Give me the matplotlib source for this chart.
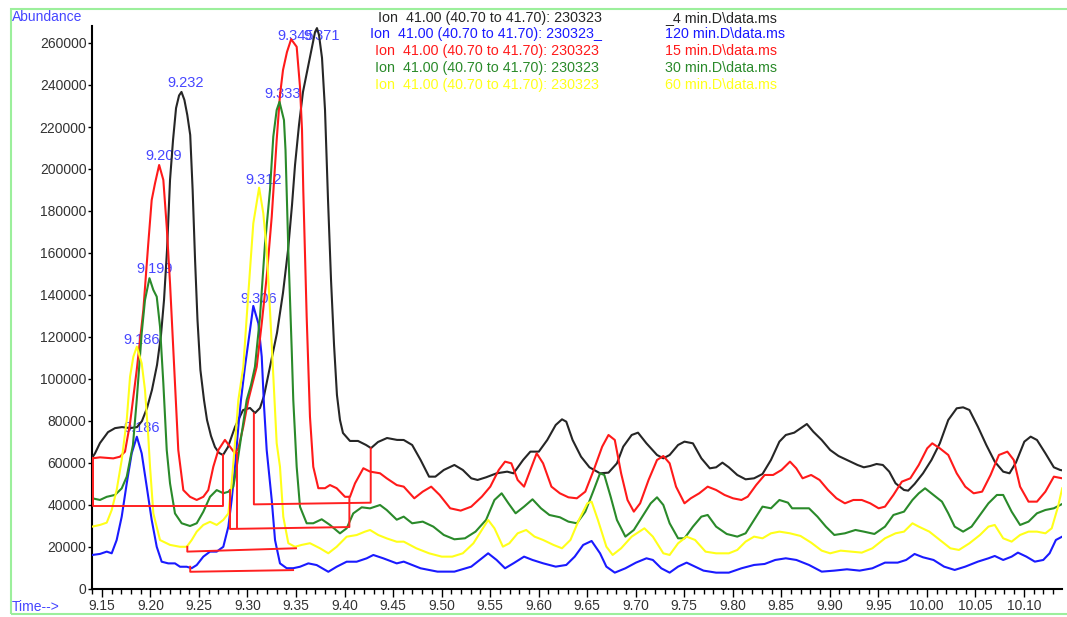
import matplotlib.pyplot as plt
from matplotlib.ticker import MultipleLocator, FormatStrFormatter
from matplotlib.patches import Rectangle

plt.rcParams['font.family'] = ['Liberation Sans', 'DejaVu Sans']

# ---- chromatogram traces (time in min, abundance) ----
black_t = [9.1400, 9.1429, 9.148, 9.1563, 9.1635, 9.1707, 9.179, 9.1862, 9.1913, 9.1965,
           9.2016, 9.2068, 9.2109, 9.214, 9.2171, 9.2202, 9.2233, 9.2264, 9.2295, 9.232,
           9.235, 9.238, 9.241, 9.2435, 9.246, 9.2485, 9.2515, 9.2552, 9.2583, 9.2624,
           9.2665, 9.2707, 9.2748, 9.2799, 9.2871, 9.2954, 9.3026, 9.3078, 9.3129, 9.317,
           9.3232, 9.3304, 9.3366, 9.3418, 9.3459, 9.349, 9.3531, 9.3572, 9.3613, 9.3655,
           9.3696, 9.3716, 9.3737, 9.3768, 9.3799, 9.383, 9.3861, 9.3892, 9.3922, 9.3953,
           9.3984, 9.4056, 9.4139, 9.4221, 9.4273, 9.4345, 9.4438, 9.4541,
           9.461, 9.4697, 9.4784, 9.4871, 9.4936, 9.5023, 9.5132, 9.5219, 9.5306, 9.5371,
           9.5458, 9.5567, 9.5676, 9.5741, 9.584, 9.5915, 9.6002, 9.6089, 9.6176, 9.6241,
           9.6285, 9.635, 9.6437, 9.6524, 9.6633, 9.672, 9.6807, 9.6872, 9.6959, 9.7024,
           9.7111, 9.722, 9.7285, 9.735, 9.7437, 9.7503, 9.759, 9.7677, 9.7764, 9.7829,
           9.7894, 9.796, 9.8047, 9.8133, 9.822, 9.8307, 9.8394, 9.8481, 9.8547, 9.8634,
           9.8699, 9.8764, 9.883, 9.8917, 9.9004, 9.909, 9.9177, 9.9286, 9.9351, 9.9417,
           9.9482, 9.9547, 9.9613, 9.9678, 9.9765, 9.9808, 9.9874, 9.9961, 10.0048, 10.0134,
           10.0221, 10.0308, 10.0374, 10.0439, 10.0526, 10.0613, 10.07, 10.0787, 10.0852, 10.0918,
           10.1005, 10.107, 10.1135, 10.1222, 10.1309, 10.1374, 10.1395]
black_v = [62500, 64600, 69500, 74700, 76600, 77100, 76600, 77100, 80000, 86200,
           94800, 106700, 121000, 137600, 161400, 194800, 213800, 229000, 235000, 236700,
           232900, 225700, 216200, 190000, 156700, 128100, 104300, 90000, 80500, 72900,
           67600, 64800, 63800, 67600, 77100, 85200, 86200, 83800, 86200, 91900,
           105700, 121900, 141000, 161400, 182900, 201900, 221000, 236700, 246200, 255700,
           265200, 267100, 263800, 252900, 228100, 185200, 147100, 116200, 92400, 80500,
           74300, 70500, 70500, 68600, 67100, 70000, 71900, 71000,
           70960, 68580, 61440, 53500, 53500, 56680, 59060, 56680, 52710, 51920,
           53180, 55090, 55880, 55090, 61440, 65410, 65410, 70960, 78100, 80800,
           79680, 70960, 63020, 57950, 55090, 55410, 59850, 67790, 73340, 74450,
           69370, 63820, 62230, 63820, 68580, 70170, 69370, 62230, 57470, 57950,
           60170, 57950, 54300, 52230, 52710, 54770, 61440, 70170, 73340, 74450,
           76510, 78570, 74930, 70960, 66200, 63340, 61440, 59060, 57950, 58580,
           59530, 59060, 55880, 50330, 47150, 46840, 50010, 55090, 61440, 69370,
           80480, 86040, 86510, 85240, 77310, 68580, 60650, 55880, 55090, 60170,
           70170, 72550, 70960, 64610, 57950, 56680, 56500]

red_t = [9.1400, 9.148, 9.1617, 9.1686, 9.1738, 9.1772, 9.179, 9.1859, 9.1927, 9.1978,
         9.2013, 9.2047, 9.209, 9.2133, 9.2168, 9.2202, 9.2236, 9.2271, 9.2287, 9.2339,
         9.2408, 9.2477, 9.2545, 9.2596, 9.2648, 9.27, 9.2768, 9.282, 9.2871, 9.2906,
         9.2957, 9.3009, 9.3095, 9.3147, 9.3198, 9.325, 9.3301, 9.3335, 9.3366, 9.3407,
         9.345, 9.3507, 9.3541, 9.3562, 9.3575, 9.361, 9.3644, 9.3678, 9.373, 9.3799,
         9.385, 9.3919, 9.4005, 9.4056, 9.4108, 9.4194, 9.4263, 9.4366, 9.4435, 9.4538,
         9.461, 9.4719, 9.4806, 9.4893, 9.498, 9.5089, 9.5197, 9.5306, 9.5415, 9.5502,
         9.5589, 9.5654, 9.5719, 9.5784, 9.585, 9.5915, 9.598, 9.6046, 9.6132, 9.6219,
         9.6307, 9.6394, 9.6481, 9.6568, 9.6655, 9.672, 9.6785, 9.685, 9.6916, 9.6981,
         9.7046, 9.7133, 9.722, 9.7285, 9.735, 9.7416, 9.7503, 9.7568, 9.7655, 9.7742,
         9.7829, 9.7916, 9.8003, 9.809, 9.8155, 9.8242, 9.8329, 9.8416, 9.8503, 9.859,
         9.8655, 9.872, 9.8808, 9.8895, 9.8982, 9.9069, 9.9156, 9.9243, 9.933, 9.9417,
         9.9504, 9.9569, 9.9656, 9.9743, 9.983, 9.9917, 10.0004, 10.0056, 10.0134, 10.0221,
         10.0308, 10.0396, 10.0483, 10.057, 10.0657, 10.0743, 10.083, 10.0896, 10.0961, 10.1048,
         10.1135, 10.1222, 10.1309, 10.1395]
red_v = [62200, 62700, 62200, 63000, 65400, 74100, 78900, 104300, 132900, 164600,
         185200, 193100, 201900, 194800, 172500, 145600, 113800, 82000, 66200, 47100,
         43900, 42400, 43900, 47100, 58200, 66200, 71000, 67800, 64600, 67000,
         77300, 90000, 105800, 126500, 148700, 177300, 213800, 235200, 247100, 255700,
         261800, 258200, 239200, 218600, 190000, 129700, 82000, 58200, 48000, 48000,
         49500, 48000, 43900, 43900, 50300, 57500, 55900, 55100, 52700, 49500,
         48740, 43190, 46360, 48740, 44780, 38430, 37320, 39220, 43980, 48740,
         56680, 60650, 59850, 51920, 48740, 56680, 64610, 59850, 48740, 45570,
         43660, 43190, 46360, 56680, 67790, 73340, 70960, 55090, 42390, 36840,
         40800, 51920, 61440, 63340, 59850, 48740, 40800, 43190, 45570, 48740,
         47150, 44780, 43190, 42390, 43980, 49530, 54300, 54300, 56680, 60650,
         57470, 52710, 54300, 51920, 47150, 43190, 40800, 42390, 42390, 40800,
         38430, 39220, 44780, 51120, 52710, 59060, 66990, 69370, 66990, 63820,
         55090, 48740, 45570, 46360, 54300, 63820, 65410, 61440, 48740, 41600,
         41600, 46360, 53500, 52710]

green_t = [9.1400, 9.148, 9.155, 9.1635, 9.1704, 9.1756, 9.179, 9.182, 9.1859, 9.191,
           9.1944, 9.199, 9.203, 9.2065, 9.2099, 9.2133, 9.2168, 9.2202, 9.2253, 9.2322,
           9.2408, 9.2477, 9.2545, 9.2614, 9.2683, 9.2751, 9.2803, 9.2854, 9.2889, 9.2941,
           9.2992, 9.3036, 9.3077, 9.3129, 9.3181, 9.3232, 9.3266, 9.3301, 9.333, 9.3376,
           9.3392, 9.3421, 9.3456, 9.3472, 9.3507, 9.3541, 9.361, 9.3678, 9.3765, 9.385,
           9.3953, 9.4022, 9.409, 9.4177, 9.4263, 9.4366, 9.4435, 9.4538,
           9.461, 9.4697, 9.4806, 9.4915, 9.5023, 9.5132, 9.5241, 9.535, 9.5458, 9.5545,
           9.5619, 9.5689, 9.5763, 9.585, 9.5937, 9.6024, 9.6111, 9.622, 9.6307, 9.6394,
           9.6481, 9.6568, 9.6633, 9.6677, 9.6742, 9.6807, 9.6894, 9.6981, 9.7068, 9.7155,
           9.722, 9.7285, 9.735, 9.7437, 9.7503, 9.759, 9.7677, 9.7742, 9.7829, 9.7938,
           9.8047, 9.8133, 9.822, 9.8307, 9.8394, 9.8481, 9.8569, 9.8612, 9.8699, 9.8786,
           9.8873, 9.896, 9.9047, 9.9156, 9.9265, 9.9351, 9.946, 9.9569, 9.9656, 9.9765,
           9.9852, 9.9917, 9.9982, 10.0069, 10.0156, 10.0221, 10.0287, 10.0374, 10.0461, 10.0548,
           10.0635, 10.0722, 10.0787, 10.0874, 10.0961, 10.1048, 10.1135, 10.1222, 10.1309, 10.1395]
green_v = [43200, 42400, 43900, 44800, 47900, 53500, 61400, 68600, 90000, 121800,
           137600, 148000, 142400, 139200, 124900, 98000, 66200, 50300, 36000, 31300,
           30000, 31300, 36800, 43900, 47100, 45600, 46300, 48700, 58200, 74100,
           90000, 97100, 105800, 129700, 164600, 190000, 215400, 228100, 232000, 223300,
           209000, 161400, 113800, 90000, 58200, 39200, 31300, 31300, 33200, 30500,
           26500, 28900, 36000, 38900, 38400, 40000, 37600, 33000,
           34460, 31290, 32080, 29700, 25730, 23670, 24140, 27320, 32870, 42390,
           45570, 40800, 36050, 39220, 42710, 38430, 35250, 34140, 32080, 31290,
           36840, 47150, 55090, 54300, 43980, 32870, 24940, 28110, 34460, 40800,
           43660, 40010, 31290, 24140, 24140, 29700, 34460, 35250, 29700, 26210,
           24940, 26520, 32870, 39220, 38430, 42390, 41120, 38430, 38430, 38430,
           34460, 29700, 25730, 26520, 28110, 27320, 26210, 29700, 35250, 36840,
           42390, 45570, 47950, 44780, 41600, 36050, 29700, 27320, 29700, 35250,
           40800, 44780, 44780, 36840, 30490, 32080, 36050, 37630, 38430, 40490]

yellow_t = [9.1400, 9.148, 9.155, 9.1601, 9.1652, 9.1704, 9.1756, 9.179, 9.1824, 9.186,
            9.191, 9.1944, 9.1978, 9.1996, 9.203, 9.2099, 9.2202, 9.2305, 9.2374, 9.2425,
            9.2477, 9.2545, 9.2614, 9.2683, 9.2751, 9.2803, 9.2837, 9.2871, 9.2906, 9.2957,
            9.3009, 9.306, 9.312, 9.3163, 9.3198, 9.3232, 9.3266, 9.3301, 9.3335, 9.3369,
            9.3421, 9.349, 9.3559, 9.3644, 9.3747, 9.3833, 9.3919, 9.4022, 9.4125, 9.421,
            9.4263, 9.4348, 9.4435, 9.4538,
            9.461, 9.474, 9.4871, 9.5002, 9.511, 9.5219, 9.5328, 9.5415, 9.548, 9.5545,
            9.5632, 9.5698, 9.5784, 9.5872, 9.5958, 9.6046, 9.6154, 9.6241, 9.6328, 9.6415,
            9.6502, 9.6546, 9.6611, 9.6698, 9.6763, 9.685, 9.6959, 9.709, 9.7177, 9.7285,
            9.735, 9.7437, 9.7525, 9.7612, 9.772, 9.7829, 9.796, 9.8047, 9.8133, 9.822,
            9.8307, 9.8394, 9.8481, 9.859, 9.8699, 9.8808, 9.8917, 9.9004, 9.9112, 9.9221,
            9.933, 9.9439, 9.9569, 9.9678, 9.9765, 9.9852, 9.9917, 10.0026, 10.0134, 10.0243,
            10.0331, 10.0439, 10.0548, 10.0635, 10.07, 10.0787, 10.0874, 10.0961, 10.1048, 10.1135,
            10.1222, 10.1287, 10.1352, 10.1395]
yellow_v = [29700, 30500, 31600, 37600, 47100, 61400, 80500, 101100, 110600, 115400,
            107500, 94800, 72500, 58200, 36000, 23300, 21000, 20100, 20100, 23300,
            27300, 30500, 32000, 30500, 32900, 36000, 50300, 69400, 90000, 105800,
            140800, 174100, 191100, 178900, 161400, 132900, 101100, 69400, 58200, 34400,
            21800, 20100, 21000, 21800, 19400, 17000, 20100, 24900, 25700, 27300,
            28100, 25700, 24100, 22500,
            22560, 19380, 17000, 15410, 15410, 17000, 21760, 28110, 32870, 28900,
            20170, 21760, 26520, 28110, 24940, 23350, 20970, 19380, 23350, 32870,
            40800, 41600, 32870, 20170, 16210, 19380, 24940, 28900, 24940, 17000,
            16210, 21760, 24940, 23350, 17790, 16990, 16990, 18590, 22560, 24940,
            24140, 26520, 27320, 26520, 25250, 22080, 18270, 16990, 18270, 17790,
            17320, 19380, 24140, 26520, 27320, 31290, 29700, 27320, 23350, 19380,
            18590, 21760, 25730, 29700, 30490, 24140, 22560, 25730, 27320, 27320,
            26520, 28900, 39220, 47950]

blue_t = [9.1400, 9.148, 9.155, 9.1601, 9.1652, 9.1704, 9.1756, 9.1807, 9.186, 9.191,
          9.1962, 9.2013, 9.2065, 9.2116, 9.2184, 9.2253, 9.2305, 9.2374, 9.2425, 9.2477,
          9.2545, 9.2614, 9.2683, 9.2751, 9.2803, 9.2837, 9.2871, 9.2906, 9.2933, 9.2974,
          9.3026, 9.306, 9.3112, 9.3147, 9.317, 9.3198, 9.325, 9.3284, 9.3335, 9.3404,
          9.3472, 9.3541, 9.3627, 9.3713, 9.3833, 9.3919, 9.4022, 9.4125, 9.4228, 9.4297,
          9.44, 9.4538,
          9.461, 9.4784, 9.4958, 9.5132, 9.5306, 9.5415, 9.548, 9.5567, 9.5654, 9.5741,
          9.585, 9.5937, 9.6046, 9.6176, 9.6285, 9.6372, 9.6459, 9.6546, 9.6633, 9.6698,
          9.6785, 9.6894, 9.7003, 9.7111, 9.7177, 9.7264, 9.735, 9.7437, 9.7525, 9.7612,
          9.7699, 9.7829, 9.796, 9.809, 9.822, 9.8329, 9.8438, 9.8547, 9.8656, 9.8786,
          9.8917, 9.9047, 9.9177, 9.9308, 9.9439, 9.9569, 9.97, 9.9787, 9.9874, 9.9961,
          10.0069, 10.0178, 10.0287, 10.0396, 10.0526, 10.0635, 10.07, 10.0787, 10.0874, 10.0939,
          10.1026, 10.1113, 10.12, 10.1265, 10.133, 10.1395]
blue_v = [16200, 16700, 17800, 17000, 23300, 34400, 50300, 64600, 72500, 64600,
          48700, 32900, 20100, 13000, 12200, 12200, 10600, 10600, 9900, 11400,
          15400, 17800, 17800, 20100, 29700, 42400, 58200, 77300, 90000, 105800,
          123300, 134800, 126500, 110600, 87600, 66200, 42400, 23300, 12200, 9900,
          9900, 10600, 12200, 11400, 8200, 10600, 13000, 13000, 14600, 16200,
          14600, 12200,
          13030, 9860, 8270, 8270, 10650, 14620, 17000, 13830, 9860, 12240,
          15410, 13830, 12240, 10650, 11450, 15410, 20970, 22870, 17000, 10650,
          7790, 9860, 12560, 14620, 13830, 9860, 7790, 10650, 12560, 10650,
          8750, 7790, 7790, 9860, 11450, 11920, 13830, 14620, 13830, 11450,
          8270, 8750, 9380, 8750, 9860, 12560, 12560, 13830, 16680, 15100,
          13830, 10650, 9070, 10650, 13030, 14620, 15730, 13830, 15410, 17320,
          15410, 13030, 13830, 17000, 23350, 24940]

# ---- peak labels ----
peak_times = [9.186, 9.186, 9.199, 9.209, 9.232, 9.306, 9.312, 9.333, 9.345, 9.371]
peak_heights = [72500, 115400, 148000, 201900, 236700, 134800, 191100, 232000, 261800, 267100]
peak_shift = [(5, 9), (5, 7), (5, 9), (5, 9), (4, 9), (5, 7), (5, 8), (3, 8), (4, 3), (5, -8)]

# ---- integration baselines (start t, start v, end t, end v, start drop top, end drop top) ----
base_t0 = [9.1405, 9.3066, 9.282, 9.238, 9.241]
base_v0 = [39500, 40300, 28600, 17800, 8200]
base_t1 = [9.275, 9.427, 9.405, 9.350, 9.347]
base_v1 = [39500, 41100, 29500, 19400, 9000]
base_top0 = [62200, 83600, 47100, 20100, 10600]
base_top1 = [63800, 67000, 43900, 19400, 9000]
# extra drop line between the two close peaks
drop_t = [9.289]
drop_lo = [28700]
drop_hi = [65400]

# ---- legend text ----
legend_left = ['Ion  41.00 (40.70 to 41.70): 230323', 'Ion  41.00 (40.70 to 41.70): 230323_',
               'Ion  41.00 (40.70 to 41.70): 230323', 'Ion  41.00 (40.70 to 41.70): 230323',
               'Ion  41.00 (40.70 to 41.70): 230323']
legend_right = ['_4 min.D\\data.ms', '120 min.D\\data.ms', '15 min.D\\data.ms',
                '30 min.D\\data.ms', '60 min.D\\data.ms']

colors = ['#262626', '#1a1aff', '#ff1a1a', '#2a8a2a', '#ffff1a']
label_color = '#4646ff'

W, H = 1067, 617
fig = plt.figure(figsize=(W / 100, H / 100), dpi=100)
ax = fig.add_axes([92 / W, 28 / H, 970 / W, 562.8 / H])

ax.plot(black_t, black_v, color=colors[0], lw=1.5, zorder=3)
ax.plot(blue_t, blue_v, color=colors[1], lw=1.5, zorder=3)
ax.plot(red_t, red_v, color=colors[2], lw=1.5, zorder=3)
ax.plot(green_t, green_v, color=colors[3], lw=1.5, zorder=3)
ax.plot(yellow_t, yellow_v, color=colors[4], lw=1.5, zorder=3)

for t0, v0, t1, v1, h0, h1 in zip(base_t0, base_v0, base_t1, base_v1, base_top0, base_top1):
    ax.plot([t0, t0, t1, t1], [h0, v0, v1, h1], color='#ff2020', lw=1.4, zorder=4)
ax.vlines(drop_t, drop_lo, drop_hi, color='#ff2020', lw=1.4, zorder=4)

for t, h, (dx, dy) in zip(peak_times, peak_heights, peak_shift):
    ax.annotate('%.3f' % t, (t, h), xytext=(dx, dy), textcoords='offset pixels',
                ha='center', va='center', fontsize=10.5, color=label_color, zorder=2)

ax.set_xlim(9.1398, 10.1393)
ax.set_ylim(0, 268000)
ax.xaxis.set_major_locator(MultipleLocator(0.05))
ax.xaxis.set_minor_locator(MultipleLocator(0.01))
ax.xaxis.set_major_formatter(FormatStrFormatter('%.2f'))
ax.yaxis.set_major_locator(MultipleLocator(20000))
ax.yaxis.set_major_formatter(FormatStrFormatter('%d'))
ax.tick_params(axis='x', which='major', length=6, width=1, pad=1.5, labelsize=10, labelcolor='#333333')
ax.tick_params(axis='x', which='minor', length=3.5, width=1)
ax.tick_params(axis='y', length=3, width=1, pad=1, labelsize=10, labelcolor='#333333')
for s in ['top', 'right']:
    ax.spines[s].set_visible(False)
for s in ['left', 'bottom']:
    ax.spines[s].set_linewidth(1.5)
ax.patch.set_alpha(0)

# legend block
ys = [18, 34, 51, 68, 85]
xs = [378, 370, 375, 375, 375]
for i in range(5):
    fig.text(xs[i] / W, 1 - ys[i] / H, legend_left[i], color=colors[i], fontsize=10.3,
             ha='left', va='center')
    fig.text(665 / W, 1 - ys[i] / H, legend_right[i], color=colors[i], fontsize=10.3,
             ha='left', va='center')

fig.text(12 / W, 1 - 17 / H, 'Abundance', color=label_color, fontsize=10, ha='left', va='center')
fig.text(12 / W, 1 - 607 / H, 'Time-->', color=label_color, fontsize=10, ha='left', va='center')

fig.patches.append(Rectangle((11 / W, 3 / H), 1.2, 605 / H, transform=fig.transFigure,
                             fill=False, edgecolor='#9cef9c', lw=1.5, zorder=0))

fig.savefig('out.png', dpi=100)
